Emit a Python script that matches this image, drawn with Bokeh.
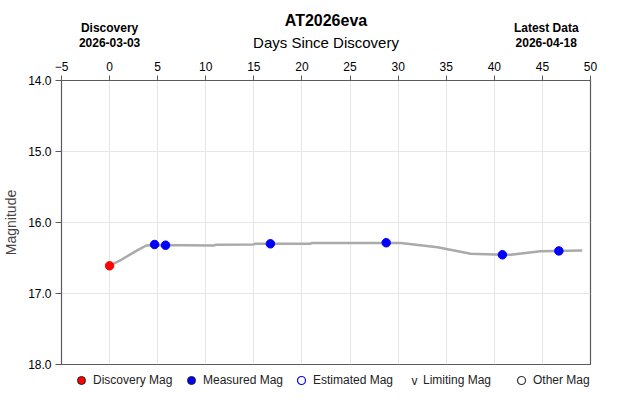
from bokeh.plotting import figure
from bokeh.layouts import column
from bokeh.models import (Range1d, Legend, LegendItem, Label, FixedTicker,
                          NumeralTickFormatter)
from bokeh.embed import file_html
from bokeh.resources import INLINE

FONT = "Liberation Sans"
NAN = float("nan")

# ---- data ----
title_text = "AT2026eva"
x_axis_title = "Days Since Discovery"
y_axis_title = "Magnitude"
discovery_date = "2026-03-03"
latest_date = "2026-04-18"
discovery_day = 0.0
latest_label_day = 45.4

disc_days = [0.0]
disc_mags = [16.61]

meas_days = [4.68, 5.82, 16.72, 28.76, 40.84, 46.71]
meas_mags = [16.31, 16.32, 16.30, 16.285, 16.455, 16.40]

curve_days = [0.0, 1.22, 2.96, 3.82, 4.65, 10.88, 11.0, 15.0, 15.1, 20.9, 21.0,
              30.28, 34.09, 37.55, 40.84, 41.7, 44.8, 49.14]
curve_mags = [16.606, 16.525, 16.385, 16.324, 16.317, 16.324, 16.315, 16.31,
              16.30, 16.30, 16.29, 16.29, 16.348, 16.44, 16.455, 16.455,
              16.404, 16.394]

x_ticks = [-5, 0, 5, 10, 15, 20, 25, 30, 35, 40, 45, 50]
y_ticks = [14, 15, 16, 17, 18]

legend_labels = ["Discovery Mag", "Measured Mag", "Estimated Mag",
                 "Limiting Mag", "Other Mag"]

W = 630
HEAD_H = 52
MAIN_BOTTOM = 10
FOOT_H = 41 - MAIN_BOTTOM
MAIN_H = 405 - HEAD_H - FOOT_H
LEFT, RIGHT = 60, 40

x_range = Range1d(-5, 50)

# ---------------- header (title + discovery / latest labels) ----------------
head = figure(width=W, height=HEAD_H, output_backend="svg", toolbar_location=None,
              x_range=x_range, y_range=Range1d(0, 1),
              x_axis_type=None, y_axis_type=None,
              min_border_left=LEFT, min_border_right=RIGHT,
              min_border_top=0, min_border_bottom=0)
head.outline_line_color = None
head.xgrid.visible = False
head.ygrid.visible = False
head.background_fill_color = "white"
head.border_fill_color = "white"

mid_day = (x_range.start + x_range.end) / 2.0


def hlabel(x, y, text, size, style):
    head.add_layout(Label(x=x, y=y, x_units="data", y_units="screen", text=text,
                          text_align="center", text_baseline="alphabetic",
                          text_font=FONT, text_font_size=size,
                          text_font_style=style, text_color="black"))


hlabel(mid_day, 32, title_text, "16px", "bold")
hlabel(mid_day, 10.5, x_axis_title, "15px", "normal")
hlabel(discovery_day, 25, "Discovery", "12px", "bold")
hlabel(discovery_day, 10.5, discovery_date, "12px", "bold")
hlabel(latest_label_day, 25, "Latest Data", "12px", "bold")
hlabel(latest_label_day, 10.5, latest_date, "12px", "bold")

# ---------------- main plot ----------------
p = figure(width=W, height=MAIN_H, output_backend="svg", toolbar_location=None,
           x_range=x_range, y_range=Range1d(18, 14),
           x_axis_location="above", min_border_left=LEFT, min_border_right=RIGHT,
           min_border_top=80 - HEAD_H, min_border_bottom=MAIN_BOTTOM)
p.background_fill_color = "white"
p.border_fill_color = "white"
p.outline_line_color = "#5a5a5a"
p.outline_line_width = 1.2

xa = p.xaxis[0]
xa.ticker = FixedTicker(ticks=x_ticks)
xa.major_label_text_font = FONT
xa.major_label_text_font_size = "12px"
xa.major_label_text_color = "black"
xa.major_label_standoff = 5
xa.major_tick_out = 5
xa.major_tick_in = 0
xa.minor_tick_line_color = None
xa.axis_line_color = "#5a5a5a"
xa.major_tick_line_color = "#5a5a5a"

ya = p.yaxis[0]
ya.ticker = FixedTicker(ticks=y_ticks)
ya.formatter = NumeralTickFormatter(format="0.0")
ya.axis_label = y_axis_title
ya.axis_label_text_font = FONT
ya.axis_label_text_font_size = "14px"
ya.axis_label_text_font_style = "normal"
ya.axis_label_standoff = 6
ya.major_label_text_font = FONT
ya.major_label_text_font_size = "12px"
ya.major_label_text_color = "black"
ya.major_label_standoff = 4
ya.major_tick_out = 6
ya.major_tick_in = 0
ya.minor_tick_line_color = None
ya.axis_line_color = "#5a5a5a"
ya.major_tick_line_color = "#5a5a5a"

p.xgrid.grid_line_color = "#e6e6e6"
p.ygrid.grid_line_color = "#e6e6e6"
p.xgrid.ticker = FixedTicker(ticks=x_ticks)
p.ygrid.ticker = FixedTicker(ticks=y_ticks)

p.line(curve_days, curve_mags, line_color="#aaaaaa", line_width=2.5)
p.scatter(disc_days, disc_mags, marker="circle", size=8.5,
          fill_color="#ff0000", line_color="#ff0000")
p.scatter(meas_days, meas_mags, marker="circle", size=8.5,
          fill_color="#0000ff", line_color="#0000ff")

# ---------------- footer legend ----------------
foot = figure(width=W, height=FOOT_H, output_backend="svg", toolbar_location=None,
              x_range=Range1d(0, 1), y_range=Range1d(0, 1),
              x_axis_type=None, y_axis_type=None,
              min_border_left=LEFT, min_border_right=RIGHT,
              min_border_top=0, min_border_bottom=0)
foot.outline_line_color = None
foot.xgrid.visible = False
foot.ygrid.visible = False
foot.background_fill_color = "white"
foot.border_fill_color = "white"

l_disc = foot.scatter([NAN], [NAN], marker="circle", fill_color="#ff0000",
                      line_color="#222222")
l_meas = foot.scatter([NAN], [NAN], marker="circle", fill_color="#0000ff",
                      line_color="#222222")
l_est = foot.scatter([NAN], [NAN], marker="circle", fill_color="white",
                     line_color="#0000ff", line_width=1.2)
l_lim = foot.scatter([NAN], [NAN], marker="circle", fill_alpha=0, line_alpha=0)
l_oth = foot.scatter([NAN], [NAN], marker="circle", fill_color="white",
                     line_color="#333333", line_width=1.2)

legend = Legend(items=[LegendItem(label=legend_labels[0], renderers=[l_disc]),
                       LegendItem(label=legend_labels[1], renderers=[l_meas]),
                       LegendItem(label=legend_labels[2], renderers=[l_est]),
                       LegendItem(label=legend_labels[3], renderers=[l_lim]),
                       LegendItem(label=legend_labels[4], renderers=[l_oth])],
                orientation="horizontal", location=(10, 15),
                glyph_width=20, glyph_height=20, label_height=20,
                label_width=88, label_standoff=2, spacing=0,
                padding=0, margin=0,
                border_line_color=None, background_fill_alpha=0,
                label_text_font=FONT, label_text_font_size="12px",
                label_text_color="#222222")
foot.add_layout(legend, "center")

foot.add_layout(Label(x=353, y=25, x_units="screen", y_units="screen", text="v",
                      text_align="center", text_baseline="middle",
                      text_font=FONT, text_font_size="12px",
                      text_color="#222222"))

layout = column(head, p, foot, spacing=0)
open("out.html", "w").write(file_html(layout, INLINE))
